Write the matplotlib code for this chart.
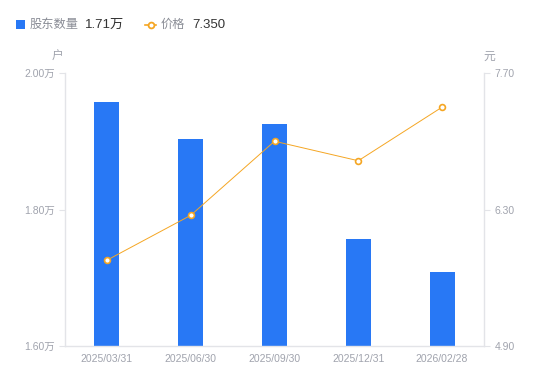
import matplotlib.pyplot as plt
from matplotlib.lines import Line2D

plt.rcParams['font.family'] = ['Liberation Sans', 'Noto Sans CJK SC', 'DejaVu Sans']

dates = ['2025/03/31', '2025/06/30', '2025/09/30', '2025/12/31', '2026/02/28']
holders = [1.957, 1.903, 1.925, 1.757, 1.708]   # 万户
price = [5.78, 6.24, 7.00, 6.80, 7.35]

blue = '#2878f5'
orange = '#f5a623'
grey = '#a0a3ad'
axis_c = '#e3e4e8'

fig = plt.figure(figsize=(5.5, 3.81), dpi=100)
ax = fig.add_axes([65/550, 1-346/381, 419/550, 273/381])
ax2 = ax.twinx()

x = list(range(len(dates)))
ax.bar(x, holders, width=0.3, color=blue, zorder=2)
ax.set_xlim(-0.5, 4.5)
ax.set_ylim(1.60, 2.00)
ax.set_yticks([1.60, 1.80, 2.00])
ax.set_yticklabels(['%.2f万' % v for v in [1.60, 1.80, 2.00]])
ax.set_xticks(x)
ax.set_xticklabels(dates)

ax2.plot(x, price, color=orange, lw=0.7, marker='o', ms=4.2, mfc='white',
         mec=orange, mew=1.2, zorder=3)
ax2.set_ylim(4.90, 7.70)
ax2.set_yticks([4.90, 6.30, 7.70])
ax2.set_yticklabels(['%.2f' % v for v in [4.90, 6.30, 7.70]])

for a in (ax, ax2):
    a.spines['top'].set_visible(False)
    for s in ('left', 'right', 'bottom'):
        a.spines[s].set_color(axis_c)
        a.spines[s].set_linewidth(1)
    a.tick_params(colors=grey, labelsize=7.5, length=4, width=0.8, color=axis_c)
ax.tick_params(axis='x', length=0, pad=6)
ax.spines['right'].set_visible(False)
ax2.spines['left'].set_visible(False)
ax2.spines['bottom'].set_visible(False)

fig.text(58/550, 1-57/381, '户', color=grey, fontsize=8.5, ha='center', va='center')
fig.text(489/550, 1-57/381, '元', color=grey, fontsize=8.5, ha='center', va='center')

# legend row
lx = fig.add_axes([0, 1-40/381, 1, 40/381])
lx.set_xlim(0, 550)
lx.set_ylim(40, 0)
lx.axis('off')
lx.add_patch(plt.Rectangle((16, 20), 9, 9, color=blue, lw=0))
lx.text(30, 24.5, '股东数量', color='#8a8d96', fontsize=8.8, va='center')
lx.text(85, 24.5, '1.71万', color='#333333', fontsize=9.5, va='center')
lx.add_line(Line2D([145, 156], [24.5, 24.5], color=orange, lw=1.2))
lx.plot([150.5], [24.5], marker='o', ms=4.2, mfc='white', mec=orange, mew=1.3)
lx.text(161, 24.5, '价格', color='#8a8d96', fontsize=8.8, va='center')
lx.text(192, 24.5, '7.350', color='#333333', fontsize=9.5, va='center')

fig.savefig('out.png', dpi=100)
